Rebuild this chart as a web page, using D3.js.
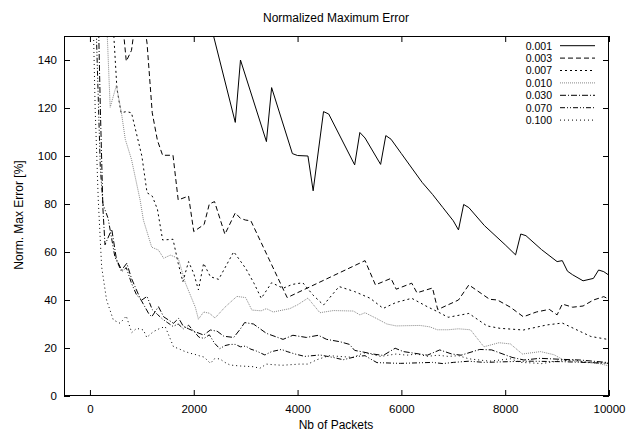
<!DOCTYPE html>
<html><head><meta charset="utf-8">
<script src="https://cdn.jsdelivr.net/npm/d3@7"></script>
<style>body{margin:0;background:#fff}svg text{font-family:"Liberation Sans",Arial,sans-serif;fill:#000}</style>
</head><body><svg id="c" width="628" height="431"></svg>
<script>
const title = "Normalized Maximum Error";
const xLabel = "Nb of Packets";
const yLabel = "Norm. Max Error [%]";
const xTicks = [0, 2000, 4000, 6000, 8000, 10000];
const yTicks = [0, 20, 40, 60, 80, 100, 120, 140];
const seriesNames = ["0.001", "0.003", "0.007", "0.010", "0.030", "0.070", "0.100"];

const s001 = [[2300,157],[2800,114],[2900,140],[3400,106],[3500,128.5],[3900,101],[4000,100.2],[4200,100],[4300,85.5],[4500,118.5],[4600,117.5],[5100,96.3],[5200,109.8],[5300,107.5],[5600,96.5],[5700,108.5],[5800,107],[6000,101],[6200,95],[6400,89],[6600,84],[6800,78.5],[7000,73],[7100,69.2],[7200,79.8],[7300,78.5],[7600,71],[8000,63],[8200,58.8],[8300,67.5],[8400,66.8],[8700,61],[9000,56],[9100,56.4],[9200,52],[9300,50.5],[9500,48],[9700,49],[9800,52.5],[9900,51.8],[10000,50.3]];
const s003 = [[500,175],[600,162],[700,139.5],[800,144],[900,160],[1000,162],[1100,147],[1200,118],[1300,106.5],[1400,100.3],[1600,100.3],[1700,81.7],[1900,83.3],[2000,68.5],[2200,71.5],[2300,80],[2400,81],[2600,67.4],[2800,76.3],[2900,74],[3000,73.3],[3100,73],[3800,41],[5300,56.4],[5500,46.3],[5800,49],[5900,44.5],[6200,47],[6300,43],[6600,45],[6700,36],[7100,40],[7300,46.3],[7700,40.3],[7850,40],[8100,37],[8350,33],[8600,35],[8850,36.1],[9000,33.8],[9100,38.3],[9300,37],[9500,37.5],[9700,40],[9900,41.4],[10000,40.3]];
const s007 = [[400,175],[460,150],[520,128],[600,118],[700,118.5],[800,118],[1000,100],[1100,84.7],[1200,83.3],[1300,77.8],[1400,65],[1600,65.3],[1700,55.3],[1790,47.6],[1900,56],[2000,51],[2090,44.2],[2190,55.3],[2320,49.7],[2480,48.6],[2770,60.1],[3000,53.2],[3160,47],[3300,40.7],[3500,47.2],[3720,44.9],[3900,46.5],[4100,47.2],[4300,42],[4500,37.9],[4800,45.6],[5100,43.5],[5400,40.7],[5650,36.5],[5900,39],[6200,40.7],[6500,37.2],[6700,35.1],[6900,32.8],[7300,34.4],[7650,29.2],[7900,28.2],[8350,27.5],[8800,29.6],[9100,30.4],[9650,24.8],[10000,23.5]];
const s010 = [[300,168],[390,120.3],[510,129.5],[610,117.5],[680,107],[800,98.6],[966,81.7],[1030,73.3],[1190,62],[1320,60.8],[1420,57.4],[1550,58.7],[1700,57.4],[1840,47],[2030,37],[2090,32],[2190,35],[2300,34.5],[2410,32.5],[2600,37],[2830,41.5],[3000,41],[3120,35.8],[3300,35.5],[3400,36.4],[3530,35],[3850,36.4],[4000,38],[4200,40.8],[4430,34.7],[4690,35.6],[5075,35.4],[5200,33.8],[5300,34.7],[5530,32.2],[5720,30],[5900,29.2],[6100,29.3],[6360,29.4],[6550,28.8],[6690,27.6],[6900,27.6],[7100,28],[7330,27.6],[7590,20.5],[7880,22.2],[8100,21.7],[8330,17.5],[8680,18.5],[8940,17.2],[9130,14.9],[9500,14.2],[9800,13.6],[10000,12.5]];
const s030 = [[150,170],[200,120],[250,78],[290,63],[420,69.5],[510,57],[610,52.5],[710,55.3],[800,49],[966,40.7],[1130,34.4],[1190,33],[1320,37.2],[1420,33],[1610,30.3],[1710,32.4],[1800,29],[1900,28],[2000,27],[2190,25.4],[2320,27.5],[2450,27],[2580,24.9],[2770,24.4],[2900,28],[2980,30.6],[3150,30],[3400,26.1],[3720,23.6],[3910,25.3],[4170,24.4],[4400,25.3],[4560,23.6],[4820,22.6],[5000,21.5],[5100,19],[5270,18.3],[5450,17.5],[5650,16.9],[5880,19.9],[6040,18.5],[6350,17.5],[6500,17],[6740,19.2],[6970,17.5],[7150,17],[7510,19.4],[7740,19.2],[8130,16.1],[8360,15],[8670,15.7],[9060,15.3],[9440,15],[10000,13.9]];
const s070 = [[100,168],[200,95],[250,80],[350,74],[480,58],[610,51.8],[700,53.5],[800,47],[900,42],[1000,40],[1100,41.5],[1200,36],[1300,34],[1400,32],[1500,30.5],[1600,29],[1700,30],[1800,28],[1900,29.5],[2000,27],[2100,24.5],[2200,24],[2300,25.5],[2400,22],[2500,19.7],[2600,21],[2700,21.5],[2800,21.5],[2900,20.5],[3000,20.8],[3100,19.5],[3200,18.8],[3370,17.1],[3500,18.5],[3690,19.4],[3800,18.5],[3950,17.5],[4140,16.5],[4430,17.1],[4700,16],[4880,15.1],[5140,16.5],[5300,16.8],[5400,15.5],[5530,13.9],[5980,13.6],[6300,13.8],[6600,14],[6800,13.5],[7000,14],[7300,14.5],[7600,14],[7900,14.2],[8230,14.4],[8500,14.5],[8800,14.4],[9100,14.3],[9500,14],[10000,13.6]];
const s100 = [[50,170],[100,120],[160,81.7],[225,53.9],[320,40],[450,31.7],[580,30.3],[700,33.3],[805,26.4],[900,28.2],[1030,27.5],[1095,24.4],[1220,26.8],[1350,28.2],[1450,28.9],[1610,20.5],[1700,19.8],[1800,18.8],[1930,17.8],[2000,17.5],[2100,16.8],[2200,16.2],[2320,13.6],[2400,15.5],[2500,15.5],[2600,14],[2700,12.9],[2900,12.5],[3160,12.2],[3270,11.5],[3400,13.3],[3500,13.1],[3700,12.8],[4040,13.3],[4200,13.3],[4370,15.1],[4600,16.8],[4800,16.5],[5075,16.1],[5270,18],[5400,17.5],[5600,16.5],[5900,17.5],[6100,17],[6300,17.5],[6500,16.5],[6700,17],[6900,16.5],[7100,16.8],[7300,15.5],[7500,15],[7700,14.5],[7900,15],[8100,15.5],[8300,14],[8500,13.8],[8700,13.5],[9000,14.5],[9300,15],[9600,14],[10000,13.7]];

const seriesData = [s001, s003, s007, s010, s030, s070, s100];
const colors = ["#000","#000","#000","#888","#000","#000","#000"];
const dashes = [null, "5,3", "2,3", "1,1", "6,2,1,2", "5,2,1,2,1,2", "1,3"];

const m = {l:64, r:609, t:36, b:396};
const x = d3.scaleLinear().domain([-500, 10000]).range([m.l, m.r]);
const y = d3.scaleLinear().domain([0, 150]).range([m.b, m.t]);
const svg = d3.select("#c");

svg.append("defs").append("clipPath").attr("id","clip")
  .append("rect").attr("x",m.l).attr("y",m.t).attr("width",m.r-m.l).attr("height",m.b-m.t);

const line = d3.line().x(d=>x(d[0])).y(d=>y(d[1]));
const g = svg.append("g").attr("clip-path","url(#clip)");
seriesData.forEach((s,i)=>{
  g.append("path").attr("d", line(s)).attr("fill","none")
   .attr("stroke", colors[i]).attr("stroke-width", 1)
   .attr("stroke-dasharray", dashes[i]);
});

const axB = d3.axisBottom(x).tickValues(xTicks).tickSizeInner(-6).tickSizeOuter(0).tickPadding(8.5).tickFormat(d3.format("d"));
const axT = d3.axisTop(x).tickValues(xTicks).tickSizeInner(-6).tickSizeOuter(0).tickFormat("");
const axL = d3.axisLeft(y).tickValues(yTicks).tickSizeInner(-6).tickSizeOuter(0).tickPadding(7);
const axR = d3.axisRight(y).tickValues(yTicks).tickSizeInner(-6).tickSizeOuter(0).tickFormat("");
[[axB,`translate(0,${m.b})`],[axT,`translate(0,${m.t})`],[axL,`translate(${m.l},0)`],[axR,`translate(${m.r},0)`]].forEach(([a,t])=>{
  const ga = svg.append("g").attr("transform",t).call(a);
  ga.select(".domain").remove();
  ga.selectAll("line").attr("stroke","#000");
  ga.selectAll("text").style("font-family",'"Liberation Sans",Arial,sans-serif').style("font-size","11.5px").attr("fill","#000");
});
svg.append("rect").attr("x",m.l+0.5).attr("y",m.t+0.5).attr("width",m.r-m.l-1).attr("height",m.b-m.t-1)
  .attr("fill","none").attr("stroke","#000").attr("stroke-width",1);

svg.append("text").attr("x",336).attr("y",22).attr("text-anchor","middle").style("font-size","12px").text(title);
svg.append("text").attr("x",336).attr("y",429).attr("text-anchor","middle").style("font-size","12px").text(xLabel);
svg.append("text").attr("transform","translate(22.5,215) rotate(-90)").attr("text-anchor","middle").style("font-size","12px").text(yLabel);

seriesNames.forEach((n,i)=>{
  const yy = 45.7 + i*12.4;
  svg.append("text").attr("x",552).attr("y",yy+3.8).attr("text-anchor","end").style("font-size","10.5px").text(n);
  svg.append("line").attr("x1",560).attr("x2",595).attr("y1",yy).attr("y2",yy)
    .attr("stroke",colors[i]).attr("stroke-width",1).attr("stroke-dasharray",dashes[i]);
});
</script></body></html>
